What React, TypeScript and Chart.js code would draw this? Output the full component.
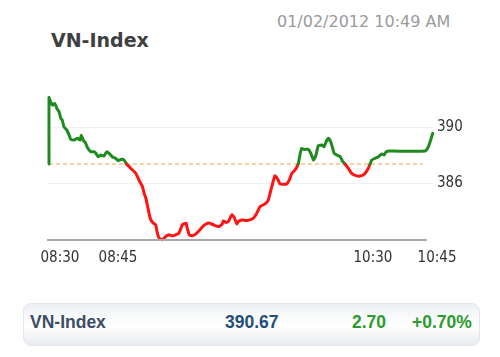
import React, { useEffect, useRef } from "react";
import { Chart, registerables } from "chart.js";

Chart.register(...registerables);

// minutes since 08:30 and index values
const TIME_MIN = [
  0, 0, 0.3, 1.2, 2.0, 2.7, 3.5, 4.1, 4.6, 5.2, 6.2, 7.0, 7.6, 8.7, 9.9, 10.8, 11.2, 11.9, 12.8, 13.3,
  14.5, 15.7, 16.3, 17.1, 18.0, 19.1, 20.1, 20.9, 22.0, 23.2, 24.0, 25.2, 26.1, 27.0, 28.4, 30.2, 31.3,
  32.5, 33.1, 33.7, 34.2, 34.8, 35.4, 36.3, 37.1, 37.7, 38.3, 39.4, 40.6, 41.8, 42.9, 44.1, 45.2, 46.4,
  47.7, 48.1, 48.8, 50.0, 51.4, 52.5, 53.7, 55.4, 57.2, 58.9, 60.1, 60.7, 61.6, 62.4, 63.6, 64.4, 65.3,
  65.9, 67.1, 68.8, 69.9, 71.1, 72.3, 73.4, 75.2, 76.3, 77.5, 78.6, 79.4, 80.4, 81.5, 82.7, 83.6, 84.5,
  85.6, 86.7, 87.3, 87.9, 88.7, 90.2, 91.1, 92.0, 92.9, 93.7, 94.9, 95.7, 96.4, 97.2, 98.0, 98.7, 99.2,
  100.1, 101.3, 102.2, 103.0, 104.1, 105.3, 107.1, 108.8, 110.0, 111.1, 111.7, 112.3, 113.4, 114.6,
  115.8, 116.6, 117.3, 118.7, 130.8, 132.0, 132.8, 133.5,
];
const INDEX_VALUES = [
  387.39, 392.16, 391.96, 391.61, 391.73, 391.39, 391.13, 390.66, 390.54, 390.06, 389.82, 389.46, 389.16,
  389.11, 389.23, 389.11, 389.46, 389.11, 388.87, 388.59, 388.27, 388.27, 388.16, 387.91, 388.04, 387.96,
  388.27, 388.16, 387.91, 387.8, 387.63, 387.73, 387.68, 387.39, 387.09, 386.73, 386.25, 385.77, 385.3,
  384.94, 384.46, 383.87, 383.39, 383.16, 383.04, 382.44, 382.09, 381.96, 382.2, 382.32, 382.25, 382.32,
  382.44, 383.04, 383.16, 382.8, 382.32, 382.25, 382.44, 382.68, 382.96, 383.16, 383.04, 382.91, 383.04,
  383.32, 383.2, 383.27, 383.75, 383.59, 383.11, 383.27, 383.39, 383.34, 383.39, 383.51, 383.87, 384.34,
  384.54, 384.82, 385.77, 386.54, 386.37, 385.96, 385.94, 385.96, 386.25, 386.73, 386.96, 387.39, 388.04,
  388.51, 388.44, 388.44, 388.16, 387.68, 388.04, 388.71, 388.75, 388.63, 388.99, 389.23, 388.99, 388.51,
  388.16, 388.04, 387.91, 387.56, 387.39, 387.09, 386.73, 386.54, 386.56, 386.73, 387.09, 387.39, 387.68,
  387.8, 387.91, 388.11, 388.04, 388.27, 388.32, 388.32, 388.63, 389.11, 389.59,
];
const BASELINE = 387.39;
const BASELINE_RANGE = [0, 130.1];
const AXIS_RANGE = [-0.7, 131.5];
const Y_TICKS = [390, 386];
const X_TICK_VALUES = [3.8, 24, 112.7, 135];
const X_TICK_LABELS = ["08:30", "08:45", "10:30", "10:45"];

const SUMMARY_NAME = "VN-Index";
const SUMMARY_VALUE = "390.67";
const SUMMARY_CHANGE = "2.70";
const SUMMARY_PCT = "+0.70%";
const TITLE = "VN-Index";
const TIMESTAMP = "01/02/2012 10:49 AM";

const GREEN = "#1f8a1f";
const RED = "#ff1414";
const TICK_FONT = "'DejaVu Sans Condensed', 'DejaVu Sans', sans-serif";

const axisLinePlugin = {
  id: "axisLine",
  afterDatasetsDraw(chart: any) {
    const { ctx, chartArea, scales } = chart;
    const x0 = scales.x.getPixelForValue(AXIS_RANGE[0]);
    const x1 = scales.x.getPixelForValue(AXIS_RANGE[1]);
    ctx.save();
    ctx.strokeStyle = "#a8a8a8";
    ctx.lineWidth = 2;
    ctx.beginPath();
    ctx.moveTo(x0, chartArea.bottom);
    ctx.lineTo(x1, chartArea.bottom);
    ctx.stroke();
    ctx.restore();
  },
};

export default function App() {
  const ref = useRef<HTMLCanvasElement | null>(null);

  useEffect(() => {
    if (!ref.current) return;
    const points = TIME_MIN.map((x, i) => ({ x, y: INDEX_VALUES[i] }));
    const chart = new Chart(ref.current, {
      type: "line",
      data: {
        datasets: [
          {
            data: points,
            borderWidth: 3,
            borderColor: GREEN,
            pointRadius: 0,
            tension: 0.15,
            clip: false as any,
            borderCapStyle: "round",
            borderJoinStyle: "round",
            segment: {
              borderColor: (c: any) =>
                (c.p0.parsed.y + c.p1.parsed.y) / 2 >= BASELINE ? GREEN : RED,
            },
          },
          {
            data: BASELINE_RANGE.map((x) => ({ x, y: BASELINE })),
            borderWidth: 1,
            borderColor: "#f5a64c",
            borderDash: [4, 3],
            pointRadius: 0,
          },
        ],
      },
      plugins: [axisLinePlugin],
      options: {
        animation: false,
        responsive: false,
        maintainAspectRatio: false,
        layout: { padding: { left: 47, top: 92, right: 0, bottom: 0 } },
        plugins: { legend: { display: false }, tooltip: { enabled: false } },
        scales: {
          x: {
            type: "linear",
            min: -0.7,
            max: 133.6,
            grid: { display: false, drawTicks: false },
            border: { display: false },
            ticks: {
              autoSkip: false,
              maxRotation: 0,
              minRotation: 0,
              padding: 9,
              color: "#333",
              font: { family: TICK_FONT, size: 15 },
              callback: (v: any) => X_TICK_LABELS[X_TICK_VALUES.indexOf(Number(v))] ?? "",
            },
            afterBuildTicks: (s: any) => {
              s.ticks = X_TICK_VALUES.map((value) => ({ value }));
            },
            afterFit: (s: any) => {
              s.height = 35;
              s.paddingLeft = 0;
              s.paddingRight = 0;
            },
          },
          y: {
            type: "linear",
            position: "right",
            min: 381.95,
            max: 392.55,
            grid: { color: "#f1f1f1", drawTicks: false },
            border: { display: false },
            ticks: {
              padding: 4,
              color: "#333",
              font: { family: TICK_FONT, size: 15 },
              callback: (v: any) => String(v),
            },
            afterBuildTicks: (s: any) => {
              s.ticks = Y_TICKS.map((value) => ({ value }));
            },
            afterFit: (s: any) => {
              s.width = 67;
              s.paddingTop = 0;
              s.paddingBottom = 0;
            },
          },
        },
      },
    });
    return () => chart.destroy();
  }, []);

  const barText = (left: number, color: string, text: string) => (
    <span
      style={{
        position: "absolute",
        left,
        top: 313,
        fontFamily: "'Liberation Sans', Arial, sans-serif",
        fontWeight: "bold",
        fontSize: 17.5,
        lineHeight: "18px",
        color,
        whiteSpace: "nowrap",
      }}
    >
      {text}
    </span>
  );

  return (
    <div style={{ position: "absolute", left: 0, top: 0, width: 500, height: 357, background: "#fff", overflow: "hidden" }}>
      <div
        style={{
          position: "absolute",
          left: 51,
          top: 31,
          fontFamily: "'DejaVu Sans', sans-serif",
          fontWeight: "bold",
          fontSize: 19,
          lineHeight: "19px",
          color: "#404040",
          whiteSpace: "nowrap",
        }}
      >
        {TITLE}
      </div>
      <div
        style={{
          position: "absolute",
          left: 277,
          top: 13.5,
          fontFamily: "'DejaVu Sans', sans-serif",
          fontSize: 16,
          lineHeight: "16px",
          color: "#9a9a9a",
          whiteSpace: "nowrap",
        }}
      >
        {TIMESTAMP}
      </div>
      <canvas ref={ref} width={500} height={275} style={{ position: "absolute", left: 0, top: 0, width: 500, height: 275 }} />
      <div
        style={{
          position: "absolute",
          left: 23,
          top: 303,
          width: 457,
          height: 43,
          boxSizing: "border-box",
          borderRadius: 8,
          border: "1px solid #e2e5ea",
          background: "linear-gradient(to bottom, #eceff3 0%, #f9fafb 30%, #ffffff 55%, #e8ebef 100%)",
        }}
      />
      {barText(30, "#3d4d66", SUMMARY_NAME)}
      {barText(225, "#1f4e79", SUMMARY_VALUE)}
      {barText(352, "#2c9a2c", SUMMARY_CHANGE)}
      {barText(412, "#2c9a2c", SUMMARY_PCT)}
    </div>
  );
}
